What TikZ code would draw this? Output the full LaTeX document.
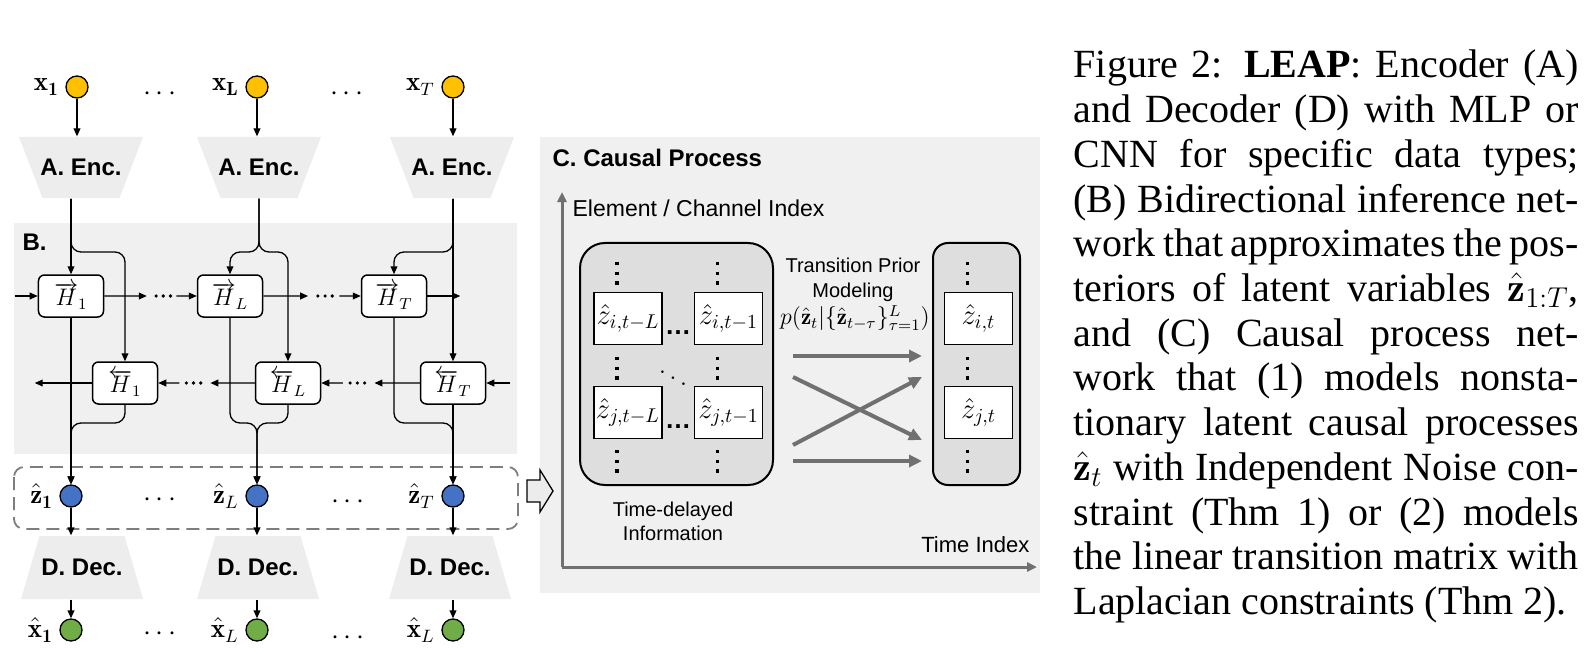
\documentclass[tikz,border=0pt]{standalone}
\usepackage{fontspec}
\setsansfont{Liberation Sans}
\newfontfamily\capfont{Liberation Serif}
\usetikzlibrary{arrows.meta,calc,positioning}

\definecolor{xorange}{HTML}{FFC000}
\definecolor{zblue}{HTML}{4472C4}
\definecolor{xgreen}{HTML}{70AD47}
\definecolor{panel}{HTML}{F0F0F0}
\definecolor{trap}{HTML}{EDEDED}
\definecolor{group}{HTML}{DEDEDE}
\definecolor{axisgray}{HTML}{707070}

\tikzset{
  arr/.style={-{Triangle[length=4bp,width=3.4bp]}},
  dotline/.style={line width=1.8bp, line cap=round, dash pattern=on 0pt off 3.6bp},
  vdotline/.style={line width=1.7bp, dash pattern=on 1.7bp off 3.1bp},
  var/.style={circle, draw, minimum size=11bp, inner sep=0pt},
  lbl/.style={inner sep=0pt, font=\fontsize{13.5bp}{15bp}\selectfont},
  dts/.style={inner sep=0pt, font=\sffamily\bfseries\fontsize{13bp}{15bp}\selectfont},
  tag/.style={inner sep=0pt, font=\sffamily\bfseries\fontsize{12bp}{14bp}\selectfont},
  hbox/.style={draw, fill=white, rounded corners=3bp, minimum width=32.5bp, minimum height=21bp,
    inner sep=0pt, line width=0.75bp, font=\fontsize{12bp}{14bp}\selectfont},
  enc/.style={tag, minimum width=62bp, minimum height=30.5bp,
    path picture={\fill[trap] (path picture bounding box.north west) -- (path picture bounding box.north east)
      -- ([xshift=-11.75bp]path picture bounding box.south east) -- ([xshift=11.75bp]path picture bounding box.south west) -- cycle;}},
  dec/.style={tag, minimum width=61bp, minimum height=31.5bp,
    path picture={\fill[trap] ([xshift=9.25bp]path picture bounding box.north west) -- ([xshift=-9.25bp]path picture bounding box.north east)
      -- (path picture bounding box.south east) -- (path picture bounding box.south west) -- cycle;}},
  cell/.style={draw, fill=white, minimum width=34bp, minimum height=26bp, inner sep=0pt, font=\fontsize{14.5bp}{16bp}\selectfont},
  grp/.style={draw, fill=group, line width=1bp, minimum height=121bp},
  bigarr/.style={draw=axisgray, line width=2bp, -{Triangle[length=6.5bp,width=6bp]}},
  capline/.style={anchor=base west, inner sep=0pt, font=\capfont\fontsize{20bp}{22bp}\selectfont},
}

\begin{document}
\begin{tikzpicture}[x=0.5bp, y=-0.5bp, line width=0.65bp, font=\sffamily]
\useasboundingbox (0,0) rectangle (1595,655);

% panels
\fill[panel] (14,223) rectangle (517,454);
\fill[panel] (540,137) rectangle (1040,593);
\node[tag, anchor=west] (tagB) at (22,242) {B.};

% observations and encoders
\foreach \c/\xx/\ex/\lab in {1/77/81/{\mathbf{x}_{\mathbf{1}}}, L/257/259/{\mathbf{x}_{\mathbf{L}}}, T/453/452/{\mathbf{x}_{T}}} {
  \node[var, fill=xorange] (x\c) at (\xx,87) {};
  \node[lbl, left=3bp of x\c] (lx\c) {$\lab$};
  \node[enc] (enc\c) at (\ex,167.5) {A. Enc.};
  \draw[arr] (x\c) -- (x\c |- enc\c.north);
}
\node[lbl] (dx1) at (160,94) {$\cdots$};
\node[lbl] (dx2) at (347,94) {$\cdots$};

% bidirectional inference network
\node[hbox] (Hf1) at (71,296) {$\overrightarrow{H}_1$};
\node[hbox] (HfL) at (230,296) {$\overrightarrow{H}_L$};
\node[hbox] (HfT) at (394,296) {$\overrightarrow{H}_T$};
\node[hbox] (Hb1) at (125,383) {$\overleftarrow{H}_1$};
\node[hbox] (HbL) at (288,383) {$\overleftarrow{H}_L$};
\node[hbox] (HbT) at (453,383) {$\overleftarrow{H}_T$};
\coordinate (forkA) at (0,252);
\coordinate (forkB) at (0,423);

% encoder outputs split to both directions
\draw[arr] (enc1.south -| Hf1) -- (Hf1);
\draw[arr, rounded corners=5bp] (enc1.south -| Hf1) |- (Hb1 |- forkA) -- (Hb1);
\draw[arr, rounded corners=5bp] (encL.south) |- (HfL |- forkA) -- (HfL);
\draw[arr, rounded corners=5bp] (encL.south) |- (HbL |- forkA) -- (HbL);
\draw[arr] (encT.south -| HbT) -- (HbT);
\draw[arr, rounded corners=5bp] (encT.south -| HbT) |- (HfT |- forkA) -- (HfT);

% recurrences
\draw[arr] ([xshift=-11.5bp]Hf1.west) -- (Hf1);
\draw[arr] (HfT.east) -- ++(33,0);
\draw[arr] (Hb1.west) -- ++(-57,0);
\draw[arr] ([xshift=12bp]HbT.east) -- (HbT);
\foreach \a/\b in {Hf1.east/HfL.west, HfL.east/HfT.west, HbL.west/Hb1.east, HbT.west/HbL.east} {
  \draw[arr] (\a) -- ($(\a)!0.46!(\b)$);
  \draw[dotline] ($(\a)!0.56!(\b)$) -- ($(\a)!0.72!(\b)$);
  \draw[arr] ($(\a)!0.78!(\b)$) -- (\b);
}

% latents, decoders and reconstructions
\draw[draw=axisgray!90, line width=0.9bp, rounded corners=5bp, dash pattern=on 6.5bp off 3.5bp] (14,467) rectangle (518,529);
\foreach \c/\xx/\dx/\zlab/\xlab in {1/71/82/{\hat{\mathbf{z}}_{\mathbf{1}}}/{\hat{\mathbf{x}}_{\mathbf{1}}},
    L/257/258/{\hat{\mathbf{z}}_{L}}/{\hat{\mathbf{x}}_{L}}, T/453/450/{\hat{\mathbf{z}}_{T}}/{\hat{\mathbf{x}}_{L}}} {
  \node[var, fill=zblue] (z\c) at (\xx,496) {};
  \node[lbl, left=3bp of z\c] (lz\c) {$\zlab$};
  \node[dec] (dec\c) at (\dx,567.5) {D. Dec.};
  \node[var, fill=xgreen] (xh\c) at (\xx,630) {};
  \node[lbl, left=3bp of xh\c] (lxh\c) {$\xlab$};
  \draw[arr] (z\c) -- (z\c |- dec\c.north);
  \draw[arr] (z\c |- dec\c.south) -- (xh\c);
}
\draw[arr] (Hf1) -- (z1);
\draw[arr, rounded corners=5bp] (Hb1) |- (z1 |- forkB) -- (z1);
\draw[arr, rounded corners=5bp] (HfL) |- (zL |- forkB) -- (zL);
\draw[arr, rounded corners=5bp] (HbL) |- (zL |- forkB) -- (zL);
\draw[arr, rounded corners=5bp] (HfT) |- (zT |- forkB) -- (zT);
\draw[arr] (HbT) -- (zT);
\node[lbl] (dz1) at (160,500) {$\cdots$};
\node[lbl] (dz2) at (348,502) {$\cdots$};
\node[lbl] (dxh1) at (160,634) {$\cdots$};
\node[lbl] (dxh2) at (348,638) {$\cdots$};

% into the causal process
\draw[fill=gray!15] (527,480) -- (540,480) -- (540,470) -- (553,491) -- (540,512) -- (540,502) -- (527,502) -- cycle;

% causal process
\node[tag, anchor=west] (tagC) at (552,158) {C. Causal Process};
\coordinate (origin) at (562,567);
\draw[draw=axisgray, line width=1.5bp, -{Triangle[length=5bp,width=4.5bp]}] (origin) -- (562,192);
\draw[draw=axisgray, line width=1.5bp, -{Triangle[length=5bp,width=4.5bp]}] (origin) -- (1037,567);
\node[anchor=west, inner sep=0pt, font=\sffamily\fontsize{11.5bp}{13bp}\selectfont] (yaxis) at (572,208) {Element / Channel Index};
\node[anchor=east, inner sep=0pt, font=\sffamily\fontsize{11bp}{13bp}\selectfont] (xaxis) at (1030,545) {Time Index};

\node[grp, rounded corners=12.5bp, minimum width=96.5bp] (past) at (676.5,364) {};
\node[grp, rounded corners=7.5bp, minimum width=43.5bp] (now) at (976.5,364) {};
\node[cell] (zil) at (628,318.5) {$\hat{z}_{i,t-L}$};
\node[cell] (zi1) at (728.5,318.5) {$\hat{z}_{i,t-1}$};
\node[cell] (zjl) at (628,412.5) {$\hat{z}_{j,t-L}$};
\node[cell] (zj1) at (728.5,412.5) {$\hat{z}_{j,t-1}$};
\node[cell] (zit) at (978.5,318.5) {$\hat{z}_{i,t}$};
\node[cell] (zjt) at (978.5,412.5) {$\hat{z}_{j,t}$};
% vertical dots above, between and below the cells
\foreach \xx in {617, 717.5, 967.5}
  \foreach \yy in {273, 368, 461}
    \draw[vdotline] (\xx,\yy-11) -- (\xx,\yy+13);
\node[dts] (hd1) at (678,333) {\ldots};
\node[dts] (hd2) at (678,427) {\ldots};
\node[lbl] (dd) at (673,372) {$\ddots$};
\node[align=center, inner sep=0pt, font=\sffamily\fontsize{10bp}{12bp}\selectfont] (delay) at (673,521) {Time-delayed\\Information};
\node[align=center, inner sep=0pt, font=\sffamily\fontsize{10bp}{12.5bp}\selectfont] (trans) at (853,280) {Transition Prior\\Modeling};
\node[inner sep=0pt, font=\fontsize{11.5bp}{14bp}\selectfont] (prior) at (855,318) {$p(\hat{\mathbf{z}}_t|\{\hat{\mathbf{z}}_{t-\tau}\}_{\tau=1}^{L})$};
\draw[bigarr] ($(past.east)+(19,-8)$) -- ($(now.west)+(-10,-8)$);
\draw[bigarr] ($(past.east)+(19,13)$) -- ($(now.west)+(-10,76)$);
\draw[bigarr] ($(past.east)+(19,81)$) -- ($(now.west)+(-10,13)$);
\draw[bigarr] ($(past.east)+(19,97)$) -- ($(now.west)+(-10,97)$);

% caption
\foreach \i/\t in {1/{Figure 2: \textbf{LEAP}: Encoder (A)}, 2/{and Decoder (D) with MLP or},
    3/{CNN for specific data types;}, 4/{(B) Bidirectional inference net-},
    5/{work that approximates the pos-}, 6/{teriors of latent variables $\hat{\mathbf{z}}_{1:T}$,},
    7/{and (C) Causal process net-}, 8/{work that (1) models nonsta-},
    9/{tionary latent causal processes}, 10/{$\hat{\mathbf{z}}_t$ with Independent Noise con-},
    11/{straint (Thm 1) or (2) models}, 12/{the linear transition matrix with}}
  \node[capline] (cap\i) at (1073,{78+44.7*(\i-1)}) {\makebox[252.5bp][s]{\t}};
\node[capline] (cap13) at (1073,614.4) {Laplacian constraints (Thm 2).};
\end{tikzpicture}
\end{document}
